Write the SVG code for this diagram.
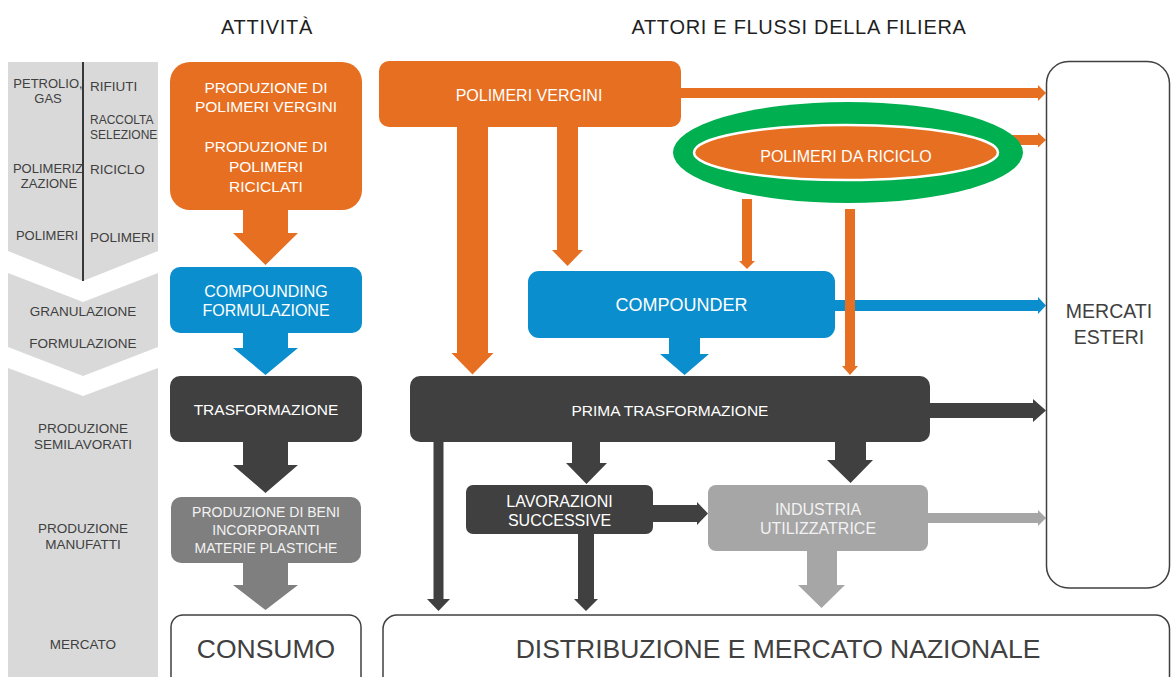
<svg xmlns="http://www.w3.org/2000/svg" width="1171" height="677" viewBox="0 0 1171 677">
<style>
  text { font-family: "Liberation Sans", Arial, "DejaVu Sans", sans-serif; }
  .hdr { font-size: 20px; letter-spacing: 0.7px; fill: #1f1f1f; text-anchor: middle; }
  .lbl { font-size: 13.5px; fill: #404040; text-anchor: middle; }
  .lbs { font-size: 13.5px; fill: #404040; }
  .bt { font-size: 16px; fill: #ffffff; text-anchor: middle; }
  .big { font-size: 26.5px; fill: #404040; text-anchor: middle; }
  .me { font-size: 19.5px; fill: #404040; text-anchor: middle; }
  .col { fill: #d9d9d9; }
  .or { fill: #e76f21; }
  .bl { fill: #0a8ecd; }
  .dk { fill: #404040; }
  .gr { fill: #7f7f7f; }
  .lg { fill: #a6a6a6; }
  .wb { fill: #ffffff; stroke: #404040; stroke-width: 1.5; }
</style>

<!-- headers -->
<text class="hdr" x="267" y="34">ATTIVITÀ</text>
<text class="hdr" x="799" y="34">ATTORI E FLUSSI DELLA FILIERA</text>

<!-- left phase column -->
<g id="phase-polimeri">
  <polygon class="col" points="8,62 158,62 158,251 83,281 8,251"/>
  <line x1="83" y1="62" x2="83" y2="281" stroke="#000" stroke-width="1.5"/>
  <text class="lbl" x="48" y="88" style="font-size:13px">PETROLIO,</text>
  <text class="lbl" x="48" y="103" style="font-size:13px">GAS</text>
  <text class="lbs" x="90" y="91">RIFIUTI</text>
  <text class="lbs" x="90" y="124" style="font-size:12px">RACCOLTA</text>
  <text class="lbs" x="90" y="139" style="font-size:12px">SELEZIONE</text>
  <text class="lbl" x="48" y="173" style="font-size:13px">POLIMERIZ</text>
  <text class="lbl" x="49" y="188" style="font-size:13px">ZAZIONE</text>
  <text class="lbs" x="90" y="174">RICICLO</text>
  <text class="lbl" x="47" y="240" style="font-size:13px">POLIMERI</text>
  <text class="lbs" x="90" y="242">POLIMERI</text>
</g>
<g id="phase-granulazione">
  <polygon class="col" points="8,273 83,302 158,273 158,347 83,376 8,347"/>
  <text class="lbl" x="83" y="316">GRANULAZIONE</text>
  <text class="lbl" x="83" y="348">FORMULAZIONE</text>
</g>
<g id="phase-produzione">
  <polygon class="col" points="8,368 83,396 158,368 158,677 8,677"/>
  <text class="lbl" x="83" y="433">PRODUZIONE</text>
  <text class="lbl" x="83" y="449">SEMILAVORATI</text>
  <text class="lbl" x="83" y="533">PRODUZIONE</text>
  <text class="lbl" x="83" y="549">MANUFATTI</text>
  <text class="lbl" x="83" y="649">MERCATO</text>
</g>

<!-- connectors -->
<g id="connectors">
  <polygon class="or" points="243,209 288,209 288,233 298,233 265.5,265 233,233 243,233"/>
  <polygon class="bl" points="243,332 288,332 288,348 298,348 265.5,375 233,348 243,348"/>
  <polygon class="dk" points="243,441 288,441 288,465 298,465 265.5,493 233,465 243,465"/>
  <polygon class="gr" points="243,562 288,562 288,585 298,585 265.5,610 233,585 243,585"/>

  <polygon class="or" points="678,88 1038,88 1038,85 1046,93 1038,101 1038,98 678,98"/>
  <polygon class="or" points="1010,135 1038,135 1038,132.5 1046,140 1038,147.5 1038,145 1010,145"/>
  <polygon class="or" points="457,125 488,125 488,353 493.5,353 472.5,374.5 451.5,353 457,353"/>
  <polygon class="or" points="557,125 578,125 578,250 583,250 567.5,266 552,250 557,250"/>
  <polygon class="or" points="742,199 752,199 752,261 755,261 747,269 739,261 742,261"/>

  <polygon class="bl" points="833,300 1038,300 1038,297 1046,305.5 1038,314 1038,311 833,311"/>
  <polygon class="bl" points="669,336 700,336 700,354 709,354 684.5,375 660,354 669,354"/>
  <polygon class="or" points="845,209 855,209 855,366 858,366 850,375 842,366 845,366"/>

  <polygon class="dk" points="928,403 1033,403 1033,399 1046,410.5 1033,422 1033,418 928,418"/>
  <polygon class="dk" points="572,440 600,440 600,463 607,463 586.5,484 566,463 572,463"/>
  <polygon class="dk" points="835,440 866,440 866,460 873,460 850.5,483 827,460 835,460"/>
  <polygon class="dk" points="433.5,440 443.5,440 443.5,599 450,599 438.5,611 427,599 433.5,599"/>
  <polygon class="dk" points="578,532 594,532 594,599 598,599 586,611 574,599 578,599"/>
  <polygon class="dk" points="651,505 697,505 697,502 708,513.5 697,525 697,522 651,522"/>

  <polygon class="lg" points="926,513 1038,513 1038,510 1046,518 1038,526 1038,523 926,523"/>
  <polygon class="lg" points="807,549 837,549 837,585 845,585 821.5,608 798,585 807,585"/>
</g>

<!-- activity nodes -->
<g id="produzione-polimeri">
  <rect class="or" x="170" y="62" width="192" height="148" rx="20"/>
  <text class="bt" x="266" y="93" style="font-size:15.5px">PRODUZIONE DI</text>
  <text class="bt" x="266" y="112" style="font-size:15.5px">POLIMERI VERGINI</text>
  <text class="bt" x="266" y="152" style="font-size:15.5px">PRODUZIONE DI</text>
  <text class="bt" x="266" y="172" style="font-size:15.5px">POLIMERI</text>
  <text class="bt" x="266" y="192" style="font-size:15.5px">RICICLATI</text>
</g>
<g id="compounding">
  <rect class="bl" x="170" y="267" width="192" height="66" rx="10"/>
  <text class="bt" x="266" y="297">COMPOUNDING</text>
  <text class="bt" x="266" y="316">FORMULAZIONE</text>
</g>
<g id="trasformazione">
  <rect class="dk" x="170" y="376" width="192" height="66" rx="10"/>
  <text class="bt" x="266" y="415" style="font-size:15.5px">TRASFORMAZIONE</text>
</g>
<g id="produzione-beni">
  <rect class="gr" x="171" y="497" width="190" height="66" rx="10"/>
  <text class="bt" x="266" y="517" style="font-size:14px;fill:#f2f2f2">PRODUZIONE DI BENI</text>
  <text class="bt" x="266" y="535" style="font-size:14px;fill:#f2f2f2">INCORPORANTI</text>
  <text class="bt" x="266" y="553" style="font-size:14px;fill:#f2f2f2">MATERIE PLASTICHE</text>
</g>
<g id="consumo">
  <rect class="wb" x="171" y="615" width="190" height="85" rx="12"/>
  <text class="big" x="266" y="658">CONSUMO</text>
</g>

<!-- actor nodes -->
<g id="polimeri-vergini">
  <rect class="or" x="379" y="61" width="302" height="66" rx="10"/>
  <text class="bt" x="529" y="101">POLIMERI VERGINI</text>
</g>
<g id="polimeri-riciclo">
  <ellipse cx="848" cy="152.5" rx="175" ry="50.5" fill="#00b050"/>
  <ellipse cx="846" cy="152.5" rx="152" ry="27.5" fill="#e76f21" stroke="#ffffff" stroke-width="2.5"/>
  <text class="bt" x="846" y="162">POLIMERI DA RICICLO</text>
</g>
<g id="compounder">
  <rect class="bl" x="528" y="271" width="307" height="67" rx="11"/>
  <text class="bt" x="681.5" y="311" style="font-size:18px">COMPOUNDER</text>
</g>
<g id="prima-trasformazione">
  <rect class="dk" x="410" y="376" width="520" height="66" rx="10"/>
  <text class="bt" x="670" y="416" style="font-size:15.5px">PRIMA TRASFORMAZIONE</text>
</g>
<g id="lavorazioni-successive">
  <rect class="dk" x="466" y="485" width="187" height="49" rx="7"/>
  <text class="bt" x="559.5" y="507">LAVORAZIONI</text>
  <text class="bt" x="559.5" y="526">SUCCESSIVE</text>
</g>
<g id="industria-utilizzatrice">
  <rect class="lg" x="708" y="485" width="220" height="66" rx="8"/>
  <text class="bt" x="818" y="515" style="fill:#f2f2f2">INDUSTRIA</text>
  <text class="bt" x="818" y="534" style="fill:#f2f2f2">UTILIZZATRICE</text>
</g>
<g id="mercati-esteri">
  <rect class="wb" x="1046.5" y="61.5" width="123" height="526.5" rx="22"/>
  <text class="me" x="1109" y="318">MERCATI</text>
  <text class="me" x="1109" y="344">ESTERI</text>
</g>
<g id="distribuzione">
  <rect class="wb" x="383" y="615" width="786.5" height="85" rx="14"/>
  <text class="big" x="778" y="658">DISTRIBUZIONE E MERCATO NAZIONALE</text>
</g>
</svg>
